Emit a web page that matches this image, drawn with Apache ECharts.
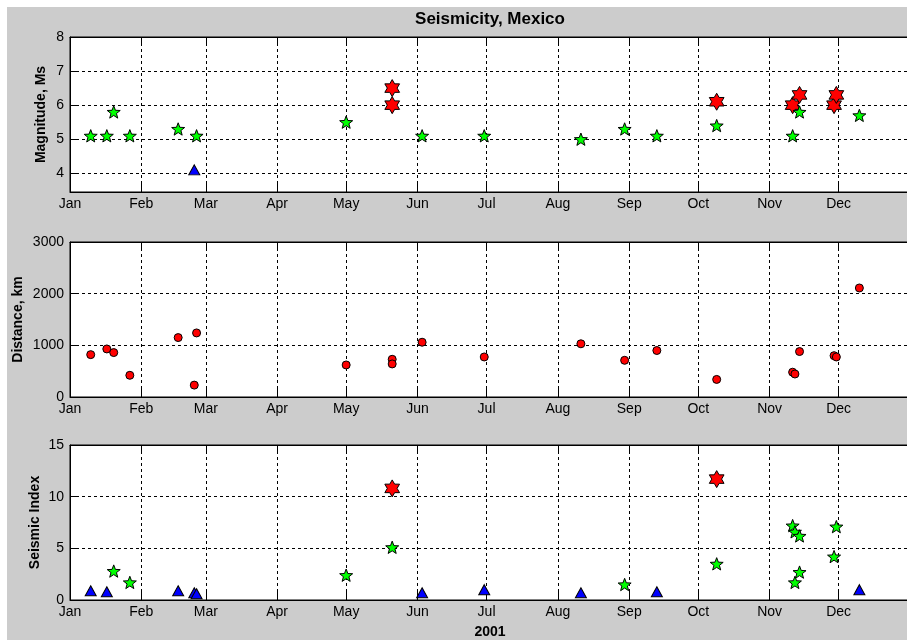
<!DOCTYPE html>
<html>
<head>
<meta charset="utf-8">
<script src="https://cdn.jsdelivr.net/npm/echarts@6/dist/echarts.min.js"></script>
<style>
  html, body { margin: 0; padding: 0; background: #fff; }
  #chart { width: 907px; height: 640px; }
</style>
</head>
<body>
<div id="chart"></div>
<script>
// ---- data -------------------------------------------------------------
const YEAR = 2001;
const monthLabels = ['Jan', 'Feb', 'Mar', 'Apr', 'May', 'Jun', 'Jul', 'Aug', 'Sep', 'Oct', 'Nov', 'Dec'];

// Magnitude, Ms
const magStarDates  = ['2001-01-10', '2001-01-17', '2001-01-20', '2001-01-27', '2001-02-17', '2001-02-25',
                       '2001-05-01', '2001-06-03', '2001-06-30', '2001-08-11', '2001-08-30', '2001-09-13',
                       '2001-10-09', '2001-11-11', '2001-11-14', '2001-12-10'];
const magStarValues = [5.1, 5.1, 5.8, 5.1, 5.3, 5.1, 5.5, 5.1, 5.1, 5.0, 5.3, 5.1, 5.4, 5.1, 5.8, 5.7];
const magHexDates   = ['2001-05-21', '2001-05-21', '2001-10-09', '2001-11-11', '2001-11-14', '2001-11-29', '2001-11-30'];
const magHexValues  = [6.5, 6.0, 6.1, 6.0, 6.3, 6.0, 6.3];
const magTriDates   = ['2001-02-24'];
const magTriValues  = [4.1];

// Distance, km
const distDates  = ['2001-01-10', '2001-01-17', '2001-01-20', '2001-01-27', '2001-02-17', '2001-02-24', '2001-02-25',
                    '2001-05-01', '2001-05-21', '2001-05-21', '2001-06-03', '2001-06-30', '2001-08-11', '2001-08-30',
                    '2001-09-13', '2001-10-09', '2001-11-11', '2001-11-12', '2001-11-14', '2001-11-29', '2001-11-30',
                    '2001-12-10'];
const distValues = [820, 930, 860, 420, 1150, 230, 1240,
                    620, 730, 640, 1060, 775, 1030, 710,
                    900, 340, 480, 445, 880, 800, 775,
                    2110];

// Seismic Index
const idxTriDates   = ['2001-01-10', '2001-01-17', '2001-02-17', '2001-02-24', '2001-02-25', '2001-06-03',
                       '2001-06-30', '2001-08-11', '2001-09-13', '2001-12-10'];
const idxTriValues  = [0.9, 0.8, 0.9, 0.7, 0.6, 0.7, 1.0, 0.7, 0.8, 1.0];
const idxStarDates  = ['2001-01-20', '2001-01-27', '2001-05-01', '2001-05-21', '2001-08-30', '2001-10-09',
                       '2001-11-11', '2001-11-12', '2001-11-14', '2001-11-14', '2001-11-12', '2001-11-30', '2001-11-29'];
const idxStarValues = [2.8, 1.7, 2.4, 5.1, 1.5, 3.5, 7.2, 6.6, 6.2, 2.7, 1.7, 7.1, 4.2];
const idxHexDates   = ['2001-05-21', '2001-10-09'];
const idxHexValues  = [10.8, 11.7];

// axis ticks
const magTicks  = [4, 5, 6, 7, 8];
const distTicks = [0, 1000, 2000, 3000];
const idxTicks  = [0, 5, 10, 15];

// ---- helpers ----------------------------------------------------------
const DAY = 86400000;
const T0 = Date.UTC(YEAR, 0, 1);
function dayOfYear(s) {
  const [y, m, d] = s.split('-').map(Number);
  return (Date.UTC(y, m - 1, d) - T0) / DAY;
}
const monthStarts = monthLabels.map((_, i) => (Date.UTC(YEAR, i, 1) - T0) / DAY);
const yearLength = (Date.UTC(YEAR + 1, 0, 1) - T0) / DAY;

function pairs(dates, values) {
  return dates.map((d, i) => [dayOfYear(d), values[i]]);
}

// n-pointed star outline used as a marker shape
function starSymbol(points, innerRatio) {
  const pts = [];
  for (let k = 0; k < points * 2; k++) {
    const r = (k % 2 ? innerRatio : 1) * 50;
    const a = -Math.PI / 2 + k * Math.PI / points;
    pts.push((50 + r * Math.cos(a)).toFixed(2) + ' ' + (50 + r * Math.sin(a)).toFixed(2));
  }
  return 'path://M' + pts.join(' L') + ' Z';
}
const PENTAGRAM = starSymbol(5, 0.42);
const HEXAGRAM = starSymbol(6, 0.577);

const FONT = '"Liberation Sans", Arial, Helvetica, sans-serif';
const GREEN = '#00ff00', RED = '#ff0000', BLUE = '#0000ff';

// ---- layout -----------------------------------------------------------
const PLOT_LEFT = 70, PLOT_WIDTH = 840;
const panels = [
  { top: 37,  height: 155, min: 3.45, max: 8,    ticks: magTicks,  name: 'Magnitude, Ms', gap: 22 },
  { top: 242, height: 155, min: 0,    max: 3000, ticks: distTicks, name: 'Distance, km',  gap: 45 },
  { top: 445, height: 155, min: 0,    max: 15,   ticks: idxTicks,  name: 'Seismic Index', gap: 28 }
];

const grids = [], xAxes = [], yAxes = [];
panels.forEach((p, i) => {
  grids.push({
    left: PLOT_LEFT, top: p.top, width: PLOT_WIDTH, height: p.height,
    show: true, backgroundColor: '#ffffff', borderColor: '#000', borderWidth: 1,
    containLabel: false, outerBoundsMode: 'none'
  });
  xAxes.push({
    type: 'value', gridIndex: i, position: 'bottom', min: 0, max: yearLength,
    name: i === 2 ? String(YEAR) : '',
    nameLocation: 'middle', nameGap: 25, nameMoveOverlap: false,
    nameTextStyle: { color: '#000', fontFamily: FONT, fontSize: 14, fontWeight: 'bold' },
    axisLine: { show: true, onZero: false, lineStyle: { color: '#000', width: 1 } },
    axisTick: { show: true, inside: true, length: 8, customValues: monthStarts, lineStyle: { color: '#000' } },
    axisLabel: {
      show: true, customValues: monthStarts, margin: 5, color: '#000', fontFamily: FONT, fontSize: 14,
      formatter: v => monthLabels[monthStarts.findIndex(m => Math.abs(m - v) < 0.5)] || ''
    },
    splitLine: { show: true, lineStyle: { color: '#000', width: 1, type: [3, 3] } }
  });
  xAxes.push({
    type: 'value', gridIndex: i, position: 'top', min: 0, max: yearLength,
    axisLine: { show: true, onZero: false, lineStyle: { color: '#000', width: 1 } },
    axisTick: { show: true, inside: true, length: 8, customValues: monthStarts, lineStyle: { color: '#000' } },
    axisLabel: { show: false },
    splitLine: { show: false }
  });
  yAxes.push({
    type: 'value', gridIndex: i, min: p.min, max: p.max,
    name: p.name, nameLocation: 'middle', nameGap: p.gap, nameMoveOverlap: false,
    nameTextStyle: { color: '#000', fontFamily: FONT, fontSize: 14, fontWeight: 'bold' },
    axisLine: { show: true, onZero: false, lineStyle: { color: '#000', width: 1 } },
    axisTick: { show: true, inside: true, length: 8, customValues: p.ticks, lineStyle: { color: '#000' } },
    axisLabel: {
      show: true, customValues: p.ticks, margin: 6, color: '#000', fontFamily: FONT, fontSize: 14,
      formatter: v => String(v)
    },
    splitLine: { show: true, lineStyle: { color: '#000', width: 1, type: [3, 3] } }
  });
});

function scatter(xIdx, yIdx, data, symbol, size, color) {
  return {
    type: 'scatter', xAxisIndex: xIdx, yAxisIndex: yIdx, data: data,
    symbol: symbol, symbolSize: size, symbolKeepAspect: true,
    itemStyle: { color: color, borderColor: '#000', borderWidth: 1, opacity: 1 },
    emphasis: { disabled: true }, silent: true
  };
}

const series = [
  // magnitude
  scatter(0, 0, pairs(magHexDates, magHexValues), HEXAGRAM, 17, RED),
  scatter(0, 0, pairs(magStarDates, magStarValues), PENTAGRAM, 13, GREEN),
  scatter(0, 0, pairs(magTriDates, magTriValues), 'triangle', [11, 10], BLUE),
  // distance
  scatter(2, 1, pairs(distDates, distValues), 'circle', 8, RED),
  // seismic index
  scatter(4, 2, pairs(idxHexDates, idxHexValues), HEXAGRAM, 17, RED),
  scatter(4, 2, pairs(idxStarDates, idxStarValues), PENTAGRAM, 13, GREEN),
  scatter(4, 2, pairs(idxTriDates, idxTriValues), 'triangle', [11, 10], BLUE)
];

const chart = echarts.init(document.getElementById('chart'), null, { renderer: 'canvas' });
chart.setOption({
  animation: false,
  backgroundColor: '#cccccc',
  grid: grids,
  xAxis: xAxes,
  yAxis: yAxes,
  series: series,
  graphic: [
    { type: 'rect', shape: { x: 0, y: 0, width: 907, height: 7 }, style: { fill: '#ffffff' }, silent: true },
    { type: 'rect', shape: { x: 0, y: 0, width: 7, height: 640 }, style: { fill: '#ffffff' }, silent: true },
    {
      type: 'text', x: 490, y: 19, silent: true,
      style: {
        text: 'Seismicity, Mexico', fill: '#000', fontFamily: FONT, fontSize: 17, fontWeight: 'bold',
        align: 'center', verticalAlign: 'middle'
      }
    }
  ]
});
</script>
</body>
</html>
